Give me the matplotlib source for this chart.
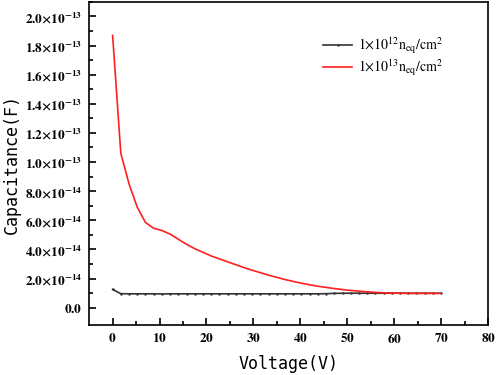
import numpy as np
import matplotlib
matplotlib.use("Agg")
import matplotlib.pyplot as plt
from matplotlib.ticker import FuncFormatter

plt.rcParams['mathtext.fontset'] = 'stix'
plt.rcParams['font.family'] = 'Liberation Serif'

# bias voltage (V)
voltage = [0, 1.75, 3.5, 5.25, 7, 8.75, 10.5, 12.25, 14, 15.75, 17.5, 19.25, 21,
           22.75, 24.5, 26.25, 28, 29.75, 31.5, 33.25, 35, 36.75, 38.5, 40.25,
           42, 43.75, 45.5, 47.25, 49, 50.75, 52.5, 54.25, 56, 57.75, 59.5,
           61.25, 63, 64.75, 66.5, 68.25, 70]

# capacitance in units of 1e-14 F
cap_1e12 = [1.25, 0.96, 0.95, 0.95, 0.95, 0.95, 0.94, 0.95, 0.95, 0.95, 0.95,
            0.95, 0.95, 0.95, 0.95, 0.95, 0.95, 0.95, 0.95, 0.95, 0.95, 0.95,
            0.95, 0.95, 0.95, 0.95, 0.96, 0.98, 0.99, 0.99, 0.99, 0.99, 0.99,
            0.99, 0.99, 0.99, 0.99, 0.99, 0.99, 0.99, 0.99]
cap_1e13 = [18.7, 10.6, 8.5, 6.9, 5.85, 5.45, 5.3, 5.05, 4.7, 4.35, 4.05, 3.8,
            3.55, 3.35, 3.15, 2.95, 2.75, 2.57, 2.4, 2.23, 2.08, 1.93, 1.8,
            1.68, 1.57, 1.47, 1.39, 1.31, 1.24, 1.18, 1.13, 1.09, 1.05, 1.02,
            1.0, 0.99, 0.98, 0.98, 0.98, 0.98, 0.98]

labels = [r'$1{\times}10^{12}\mathrm{n_{eq}/cm^2}$',
          r'$1{\times}10^{13}\mathrm{n_{eq}/cm^2}$']

xticks = [0, 10, 20, 30, 40, 50, 60, 70, 80]
yticks = [0, 2e-14, 4e-14, 6e-14, 8e-14, 1e-13, 1.2e-13, 1.4e-13, 1.6e-13,
          1.8e-13, 2e-13]

x = np.array(voltage)
c1 = np.array(cap_1e12) * 1e-14
c2 = np.array(cap_1e13) * 1e-14

fig = plt.figure(figsize=(4.98, 3.75), dpi=100)
ax = fig.add_axes([0.179, 0.133, 0.801, 0.862])

ax.plot(x, c1, color='#333333', lw=1.2, marker='.', ms=1.5, label=labels[0])
ax.plot(x, c2, color='#ff1f1f', lw=1.2, label=labels[1])

ax.set_xlim(-5, 80)
ax.set_ylim(-1.2e-14, 2.1e-13)
ax.set_xticks(xticks)
ax.set_xticks(np.array(xticks[:-1]) + 5, minor=True)
ax.set_yticks(yticks)
ax.set_yticks(np.array(yticks) + 1e-14, minor=True)


def fmt(v, pos):
    if abs(v) < 1e-20:
        return r'$\mathbf{0.0}$'
    e = int(np.floor(np.log10(abs(v)) + 1e-9))
    m = v / 10**e
    return r'$\mathbf{%.1f{\times}10^{%d}}$' % (m, e)


ax.yaxis.set_major_formatter(FuncFormatter(fmt))
ax.xaxis.set_major_formatter(FuncFormatter(lambda v, p: r'$\mathbf{%d}$' % v))

ax.tick_params(which='both', direction='in', top=False, right=False,
               labelsize=9.5, width=1.2, pad=5)
ax.tick_params(which='major', length=5)
ax.tick_params(which='minor', length=3)
for s in ax.spines.values():
    s.set_linewidth(1.2)

ax.set_xlabel('Voltage(V)', family='DejaVu Sans Mono', fontsize=12)
ax.set_ylabel('Capacitance(F)', family='DejaVu Sans Mono', fontsize=12)
ax.xaxis.set_label_coords(0.5, -0.093)
ax.yaxis.set_label_coords(-0.172, 0.5)

ax.legend(loc='upper left', bbox_to_anchor=(0.555, 0.935), frameon=False,
          fontsize=10, handlelength=2.1, handletextpad=0.4, labelspacing=0.1)

fig.savefig('out.png', dpi=100)
